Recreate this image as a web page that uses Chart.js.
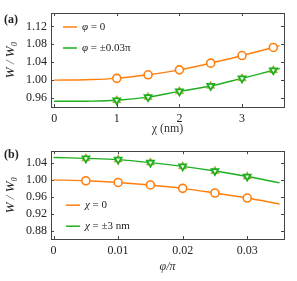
<!DOCTYPE html>
<html>
<head>
<meta charset="utf-8">
<script src="https://cdn.jsdelivr.net/npm/chart.js@4/dist/chart.umd.min.js"></script>
<style>
  body { margin: 0; background: #fff; width: 297px; height: 281px; overflow: hidden; }
  canvas { position: absolute; left: 0; }
  #chartA { top: 0; }
  #chartB { top: 140px; }
</style>
</head>
<body>
<canvas id="chartA" width="297" height="140"></canvas>
<canvas id="chartB" width="297" height="141"></canvas>
<script>
// panel (a): W/W0 vs chi
const chiLine = [0, 0.5, 1, 1.5, 2, 2.5, 3, 3.5, 3.6];
const phiZeroLine = [1.000, 1.001, 1.004, 1.012, 1.023, 1.038, 1.055, 1.073, 1.077];
const phiPmLine = [0.953, 0.953, 0.955, 0.962, 0.975, 0.987, 1.004, 1.022, 1.026];
const chiPts = [1, 1.5, 2, 2.5, 3, 3.5];
const phiZeroPts = [1.004, 1.012, 1.023, 1.038, 1.055, 1.073];
const phiPmPts = [0.955, 0.962, 0.975, 0.987, 1.004, 1.022];
const xTicksA = [0, 1, 2, 3];
const yTicksA = [0.96, 1.00, 1.04, 1.08, 1.12];

// panel (b): W/W0 vs phi/pi
const phiLine = [0, 0.005, 0.01, 0.015, 0.02, 0.025, 0.03, 0.035];
const chiZeroLine = [1.000, 0.998, 0.994, 0.988, 0.980, 0.969, 0.957, 0.943];
const chiPmLine = [1.053, 1.051, 1.048, 1.041, 1.032, 1.021, 1.008, 0.993];
const phiPts = [0.005, 0.01, 0.015, 0.02, 0.025, 0.03];
const chiZeroPts = [0.998, 0.994, 0.988, 0.980, 0.969, 0.957];
const chiPmPts = [1.051, 1.048, 1.041, 1.032, 1.021, 1.008];
const xTicksB = [0, 0.01, 0.02, 0.03];
const yTicksB = [0.88, 0.92, 0.96, 1.00, 1.04];

const ORANGE = '#ff7f0e';
const GREEN = '#1fae1f';
const OLIVE = '#a3a21c';
const SERIF = '"Liberation Serif", "DejaVu Serif", serif';

function pts(xs, ys) {
    return xs.map((x, i) => ({x: x, y: ys[i]}));
}

// frame + inward ticks on all four sides
const framePlugin = {
    id: 'frame',
    afterDraw(chart) {
        const ctx = chart.ctx;
        const a = chart.chartArea;
        const xs = chart.scales.x, ys = chart.scales.y;
        ctx.save();
        ctx.strokeStyle = '#444';
        ctx.lineWidth = 1;
        ctx.strokeRect(Math.round(a.left) + 0.5, Math.round(a.top) + 0.5,
            Math.round(a.right - a.left), Math.round(a.bottom - a.top));
        ctx.beginPath();
        xs.ticks.forEach(t => {
            let px = Math.round(xs.getPixelForValue(t.value)) + 0.5;
            ctx.moveTo(px, a.bottom); ctx.lineTo(px, a.bottom - 3);
            ctx.moveTo(px, a.top); ctx.lineTo(px, a.top + 3);
        });
        ys.ticks.forEach(t => {
            let py = Math.round(ys.getPixelForValue(t.value)) + 0.5;
            ctx.moveTo(a.left, py); ctx.lineTo(a.left + 3, py);
            ctx.moveTo(a.right, py); ctx.lineTo(a.right - 3, py);
        });
        ctx.stroke();
        ctx.restore();
    }
};

// legend drawn inside the plot area, label text from the datasets
const innerLegend = {
    id: 'innerLegend',
    afterDraw(chart, args, opts) {
        const ctx = chart.ctx;
        const a = chart.chartArea;
        const items = chart.data.datasets.filter(d => d.inLegend);
        ctx.save();
        items.forEach((d, i) => {
            let y = a.top + opts.top + i * 21;
            let x0 = a.left + opts.left;
            ctx.strokeStyle = d.borderColor;
            ctx.lineWidth = 1.5;
            ctx.beginPath();
            ctx.moveTo(x0, y); ctx.lineTo(x0 + 14, y);
            ctx.stroke();
            ctx.fillStyle = '#222';
            ctx.textBaseline = 'middle';
            let tx = x0 + 19;
            ctx.font = 'italic 11px ' + SERIF;
            let first = d.label.charAt(0);
            ctx.fillText(first, tx, y);
            tx += ctx.measureText(first).width;
            ctx.font = '11px ' + SERIF;
            ctx.fillText(d.label.slice(1), tx, y);
        });
        ctx.restore();
    }
};

const panelLabel = {
    id: 'panelLabel',
    afterDraw(chart, args, opts) {
        const ctx = chart.ctx;
        ctx.save();
        ctx.fillStyle = '#222';
        ctx.font = 'bold 12px ' + SERIF;
        ctx.textBaseline = 'middle';
        ctx.fillText(opts.text, 4, opts.y);
        ctx.restore();
    }
};

function makeDatasets(xl, l1, l2, xp, p1, p2, names) {
    return [
        {label: names[0], inLegend: true, data: pts(xl, l1), borderColor: ORANGE, borderWidth: 1.4,
         pointRadius: 0, tension: 0.4, order: 5},
        {label: names[1], inLegend: true, data: pts(xl, l2), borderColor: GREEN, borderWidth: 1.4,
         pointRadius: 0, tension: 0.4, order: 4},
        {label: 'o', data: pts(xp, p1), showLine: false, pointStyle: 'circle', pointRadius: 4,
         borderColor: ORANGE, backgroundColor: '#fff', pointBorderWidth: 1.6, order: 3},
        {label: 'up', data: pts(xp, p2), showLine: false, pointStyle: 'triangle', pointRadius: 4.8,
         borderColor: OLIVE, backgroundColor: OLIVE, pointBorderWidth: 0.5, order: 2},
        {label: 'down', data: pts(xp, p2), showLine: false, pointStyle: 'triangle', pointRotation: 180,
         pointRadius: 4, borderColor: GREEN, backgroundColor: '#f4fbef', pointBorderWidth: 1.8, order: 1}
    ];
}

function makeOptions(p) {
    return {
        responsive: false,
        animation: false,
        layout: {padding: {left: 0, top: p.top, right: 13, bottom: 0}},
        plugins: {
            legend: {display: false},
            tooltip: {enabled: false},
            innerLegend: {left: p.legLeft, top: p.legTop},
            panelLabel: {text: p.label, y: p.labelY}
        },
        scales: {
            x: {
                type: 'linear', min: p.xmin, max: p.xmax,
                grid: {display: false, drawTicks: false},
                border: {display: false},
                afterBuildTicks: s => { s.ticks = p.xticks.map(v => ({value: v})); },
                afterFit: s => { s.height = p.xh; },
                ticks: {padding: 5, color: '#222', font: {family: SERIF, size: 12},
                        callback: v => String(v)},
                title: {display: true, text: p.xtitle, color: '#333',
                        font: {family: SERIF, size: 12, style: p.xstyle},
                        padding: {top: 0, bottom: p.xtpad}}
            },
            y: {
                type: 'linear', min: p.ymin, max: p.ymax,
                grid: {display: false, drawTicks: false},
                border: {display: false},
                afterBuildTicks: s => { s.ticks = p.yticks.map(v => ({value: v})); },
                afterFit: s => { s.width = 51; },
                ticks: {padding: 4, color: '#222', font: {family: SERIF, size: 12},
                        callback: v => v.toFixed(2)},
                title: {display: true, text: 'W / W\u2080', color: '#222',
                        font: {family: SERIF, size: 13, style: 'italic'},
                        padding: {top: 3, bottom: 0}}
            }
        }
    };
}

new Chart(document.getElementById('chartA').getContext('2d'), {
    type: 'line',
    data: {datasets: makeDatasets(chiLine, phiZeroLine, phiPmLine, chiPts, phiZeroPts, phiPmPts,
        ['\u03c6 = 0', '\u03c6 = \u00b10.03\u03c0'])},
    options: makeOptions({top: 13, xh: 33, xmin: -0.05, xmax: 3.67, ymin: 0.94, ymax: 1.15,
        xticks: xTicksA, yticks: yTicksA, xtitle: '\u03c7 (nm)', xstyle: 'normal', xtpad: 4,
        legLeft: 12, legTop: 14, label: '(a)', labelY: 20}),
    plugins: [framePlugin, innerLegend, panelLabel]
});

new Chart(document.getElementById('chartB').getContext('2d'), {
    type: 'line',
    data: {datasets: makeDatasets(phiLine, chiZeroLine, chiPmLine, phiPts, chiZeroPts, chiPmPts,
        ['\u03c7 = 0', '\u03c7 = \u00b13 nm'])},
    options: makeOptions({top: 7, xh: 42, xmin: -0.0004, xmax: 0.0357, ymin: 0.86, ymax: 1.068,
        xticks: xTicksB, yticks: yTicksB, xtitle: '\u03c6/\u03c0', xstyle: 'italic', xtpad: 7,
        legLeft: 15, legTop: 54, label: '(b)', labelY: 15}),
    plugins: [framePlugin, innerLegend, panelLabel]
});
</script>
</body>
</html>
